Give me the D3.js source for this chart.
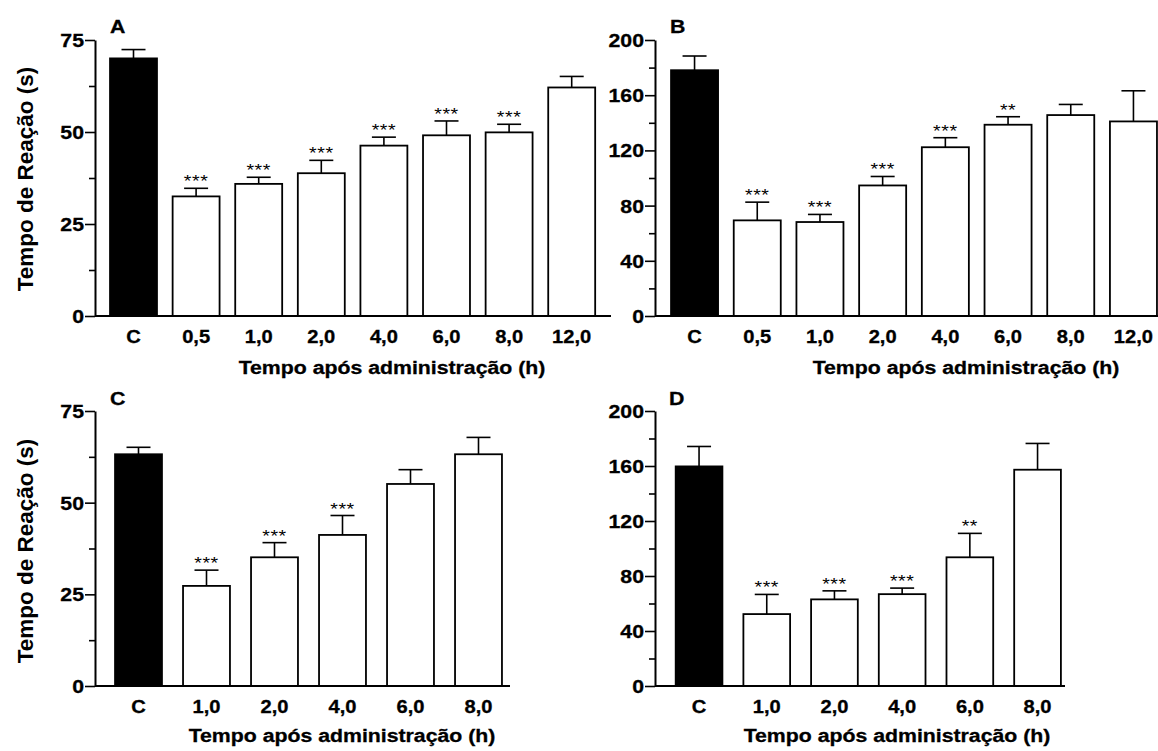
<!DOCTYPE html>
<html>
<head>
<meta charset="utf-8">
<script src="https://cdn.jsdelivr.net/npm/d3@7"></script>
<style>
  html, body { margin: 0; padding: 0; background: #fff; }
  svg { display: block; }
  text { font-family: "Liberation Sans", Arial, sans-serif; font-weight: bold; fill: #000; }
</style>
</head>
<body>
<svg id="chart" width="1158" height="751"></svg>
<script>
// ---------- data ----------
const catsAB = ["C", "0,5", "1,0", "2,0", "4,0", "6,0", "8,0", "12,0"];
const catsCD = ["C", "1,0", "2,0", "4,0", "6,0", "8,0"];

const meanA = [70.0, 32.5, 35.9, 38.8, 46.3, 49.1, 49.9, 62.1];
const semA  = [2.4, 2.2, 1.8, 3.5, 2.3, 3.9, 2.2, 3.0];
const sigA  = ["", "***", "***", "***", "***", "***", "***", ""];

const meanB = [178.1, 69.3, 68.1, 94.6, 122.3, 138.6, 145.6, 141.0];
const semB  = [10.3, 13.2, 5.5, 6.5, 6.9, 5.8, 7.7, 22.2];
const sigB  = ["", "***", "***", "***", "***", "**", "", ""];

const meanC = [63.2, 27.3, 35.1, 41.2, 55.1, 63.2];
const semC  = [1.9, 4.3, 4.0, 5.3, 3.9, 4.6];
const sigC  = ["", "***", "***", "***", "", ""];

const meanD = [159.7, 52.3, 63.0, 66.8, 93.6, 157.3];
const semD  = [14.5, 14.3, 6.2, 4.4, 17.4, 19.1];
const sigD  = ["", "***", "***", "***", "**", ""];

const ticks75 = [0, 25, 50, 75];
const minor75 = [12.5, 37.5, 62.5];
const ticks200 = [0, 40, 80, 120, 160, 200];
const minor200 = [20, 60, 100, 140, 180];

const panelLabels = ["A", "B", "C", "D"];
const xTitle = "Tempo após administração (h)";
const yTitle = "Tempo de Reação (s)";

// ---------- layout ----------
const STRETCH = 1.15;
const layouts = [
  { ax: 95,  top: 40,  base: 316, band: [102.2, 603.0], pad: 0.25, xEnd: 611,  lab: [110, 33],  title: [392, 374], yt: [33, 179] },
  { ax: 655, top: 40,  base: 316, band: [663.2, 1164.8], pad: 0.25, xEnd: 1172, lab: [670, 33],  title: [966, 374], yt: null },
  { ax: 95,  top: 411, base: 686, band: [104.5, 512.5], pad: 0.31, xEnd: 510,  lab: [110, 405], title: [342, 742], yt: [33, 551] },
  { ax: 655, top: 411, base: 686, band: [665.2, 1071.4], pad: 0.31, xEnd: 1065, lab: [669, 405], title: [897, 742], yt: null }
];

const panels = [
  { cats: catsAB, mean: meanA, sem: semA, sig: sigA, yMax: 75,  major: ticks75,  minor: minor75 },
  { cats: catsAB, mean: meanB, sem: semB, sig: sigB, yMax: 200, major: ticks200, minor: minor200 },
  { cats: catsCD, mean: meanC, sem: semC, sig: sigC, yMax: 75,  major: ticks75,  minor: minor75 },
  { cats: catsCD, mean: meanD, sem: semD, sig: sigD, yMax: 200, major: ticks200, minor: minor200 }
];

const svg = d3.select("#chart");

function stretchedText(g, x, y, str, size, anchor) {
  return g.append("text")
    .attr("transform", `translate(${x},${y}) scale(${STRETCH},1)`)
    .attr("text-anchor", anchor)
    .style("font-size", size + "px")
    .style("stroke", "#000").style("stroke-width", 0.3)
    .text(str);
}

panels.forEach((p, i) => {
  const L = layouts[i];
  const g = svg.append("g");
  const rows = p.cats.map((c, k) => ({ cat: c, mean: p.mean[k], sem: p.sem[k], sig: p.sig[k], ctrl: k === 0 }));

  const x = d3.scaleBand().domain(p.cats).range(L.band)
    .paddingInner(L.pad).paddingOuter(L.pad / 2);
  const y = d3.scaleLinear().domain([0, p.yMax]).range([L.base, L.top]);

  // bars
  g.selectAll("rect.bar").data(rows).join("rect")
    .attr("class", "bar")
    .attr("x", d => x(d.cat))
    .attr("width", x.bandwidth())
    .attr("y", d => y(d.mean))
    .attr("height", d => L.base - y(d.mean))
    .attr("fill", d => d.ctrl ? "#000" : "#fff")
    .attr("stroke", "#000")
    .attr("stroke-width", 1.8);

  // error bars (upper only)
  const eb = g.selectAll("g.err").data(rows).join("g").attr("class", "err")
    .attr("stroke", "#000").attr("stroke-width", 1.6);
  eb.append("line")
    .attr("x1", d => x(d.cat) + x.bandwidth() / 2)
    .attr("x2", d => x(d.cat) + x.bandwidth() / 2)
    .attr("y1", d => y(d.mean))
    .attr("y2", d => y(d.mean + d.sem));
  eb.append("line")
    .attr("x1", d => x(d.cat) + x.bandwidth() / 2 - 12)
    .attr("x2", d => x(d.cat) + x.bandwidth() / 2 + 12)
    .attr("y1", d => y(d.mean + d.sem))
    .attr("y2", d => y(d.mean + d.sem));

  // significance stars
  rows.filter(d => d.sig).forEach(d => {
    g.append("text")
      .attr("transform", `translate(${x(d.cat) + x.bandwidth() / 2},${y(d.mean + d.sem) - 1}) scale(${STRETCH},1)`)
      .attr("text-anchor", "middle")
      .style("font-size", "17px")
      .style("font-weight", "normal")
      .style("letter-spacing", "0.5px")
      .text(d.sig);
  });

  // y axis
  const allTicks = p.major.concat(p.minor);
  const yAxis = d3.axisLeft(y).tickValues(allTicks).tickSize(10).tickSizeOuter(0)
    .tickFormat(d => p.major.includes(d) ? d3.format("d")(d) : "");
  const ya = g.append("g").attr("transform", `translate(${L.ax},0)`).call(yAxis);
  ya.select(".domain").attr("stroke-width", 2);
  ya.selectAll(".tick line").attr("stroke-width", 1.6)
    .attr("x2", d => p.major.includes(d) ? -10 : -6);
  ya.selectAll(".tick text")
    .attr("x", null).attr("dy", null)
    .attr("transform", `translate(-11,6.5) scale(${STRETCH},1)`)
    .attr("text-anchor", "end")
    .style("font-family", "'Liberation Sans', Arial, sans-serif")
    .style("font-weight", "bold")
    .style("font-size", "18.5px")
    .style("stroke", "#000").style("stroke-width", 0.3);

  // x axis (labels only) + baseline
  const xAxis = d3.axisBottom(x).tickSize(0);
  const xa = g.append("g").attr("transform", `translate(0,${L.base})`).call(xAxis);
  xa.select(".domain").remove();
  xa.selectAll(".tick text")
    .attr("y", null).attr("dy", null)
    .attr("transform", `translate(0,27) scale(${STRETCH},1)`)
    .style("font-family", "'Liberation Sans', Arial, sans-serif")
    .style("font-weight", "bold")
    .style("font-size", "17.5px")
    .style("stroke", "#000").style("stroke-width", 0.3);
  g.append("line")
    .attr("x1", L.ax).attr("x2", L.xEnd)
    .attr("y1", L.base).attr("y2", L.base)
    .attr("stroke", "#000").attr("stroke-width", 2.2);

  // titles
  stretchedText(g, L.lab[0], L.lab[1], panelLabels[i], 18.5, "start");
  stretchedText(g, L.title[0], L.title[1], xTitle, 18.5, "middle");
  if (L.yt) {
    g.append("text")
      .attr("transform", `translate(${L.yt[0]},${L.yt[1]}) rotate(-90)`)
      .attr("text-anchor", "middle")
      .style("font-size", "22.5px")
      .text(yTitle);
  }
});
</script>
</body>
</html>
